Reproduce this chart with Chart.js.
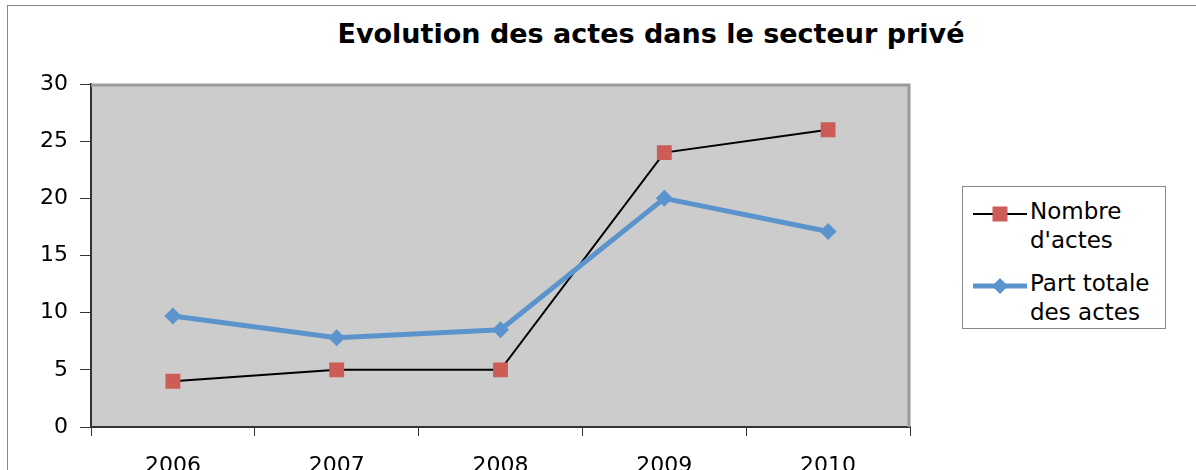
<!DOCTYPE html>
<html lang="fr">
<head>
  <meta charset="UTF-8">
  <title>Evolution des actes dans le secteur privé</title>
  <script src="https://cdn.jsdelivr.net/npm/chart.js"></script>
  <style>
    body {
      margin: 0;
      background: white;
      font-family: "DejaVu Sans", sans-serif;
    }
    #wrap {
      position: relative;
      width: 1196px;
      height: 470px;
      overflow: hidden;
    }
    #frame {
      position: absolute;
      left: 7px;
      top: 5px;
      width: 1300px;
      height: 600px;
      border: 1px solid #888;
    }
    #title {
      position: absolute;
      left: 0;
      top: 17px;
      width: 1302px;
      text-align: center;
      font-weight: bold;
      font-size: 27px;
      line-height: 34px;
      color: #000;
    }
    #chartBox {
      position: absolute;
      left: 0;
      top: 0;
      width: 1196px;
      height: 470px;
    }
    #legend {
      position: absolute;
      left: 962px;
      top: 186px;
      width: 202px;
      height: 141px;
      border: 1px solid #888;
      background: white;
      font-size: 23px;
      line-height: 29px;
      color: #000;
    }
    .item {
      position: absolute;
      left: 0;
    }
    .swatch {
      position: absolute;
      left: 10px;
      width: 54px;
    }
    .lbl {
      position: absolute;
      left: 67px;
      white-space: nowrap;
    }
  </style>
</head>
<body>
  <div id="wrap">
    <div id="frame"></div>
    <div id="title">Evolution des actes dans le secteur privé</div>
    <div id="chartBox"><canvas id="chart"></canvas></div>
    <div id="legend"></div>
  </div>

  <script>
    const years = ['2006', '2007', '2008', '2009', '2010'];
    const nombreActes = [4, 5, 5, 24, 26];
    const partTotale = [9.7, 7.8, 8.5, 20, 17.1];
    const seriesNames = [["Nombre", "d'actes"], ["Part totale", "des actes"]];

    const redMark = '#cd5c57';
    const blue = '#5b94cd';
    const tickFont = { family: '"DejaVu Sans", sans-serif', size: 22 };

    // fond gris et bordure haute/droite de la zone de tracé
    const plotBg = {
      id: 'plotBg',
      beforeDraw(chart) {
        const { ctx, chartArea: a } = chart;
        ctx.save();
        ctx.fillStyle = '#cccccc';
        ctx.fillRect(a.left, a.top, a.right - a.left, a.bottom - a.top);
        ctx.restore();
      },
      afterDatasetsDraw(chart) {
        const { ctx, chartArea: a } = chart;
        ctx.save();
        ctx.strokeStyle = '#9a9a9a';
        ctx.lineWidth = 3;
        ctx.beginPath();
        ctx.moveTo(a.left, a.top + 1);
        ctx.lineTo(a.right - 1, a.top + 1);
        ctx.lineTo(a.right - 1, a.bottom);
        ctx.stroke();
        ctx.restore();
      }
    };

    const ctx = document.getElementById('chart').getContext('2d');
    new Chart(ctx, {
      type: 'line',
      data: {
        labels: years,
        datasets: [{
          label: "Nombre d'actes",
          data: nombreActes,
          borderColor: '#000',
          borderWidth: 2,
          pointStyle: 'rect',
          pointRadius: 10.5,
          pointBackgroundColor: redMark,
          pointBorderColor: redMark,
          pointBorderWidth: 0,
          order: 2
        }, {
          label: 'Part totale des actes',
          data: partTotale,
          borderColor: blue,
          borderWidth: 5,
          pointStyle: 'rectRot',
          pointRadius: 8.5,
          pointBackgroundColor: blue,
          pointBorderColor: blue,
          pointBorderWidth: 0,
          order: 1
        }]
      },
      options: {
        responsive: true,
        maintainAspectRatio: false,
        animation: false,
        layout: {
          padding: { left: 0, top: 84, right: 286, bottom: 0 }
        },
        scales: {
          x: {
            offset: true,
            afterFit(scale) { scale.height = 43; },
            grid: {
              offset: true,
              drawOnChartArea: false,
              tickLength: 9,
              color: '#333'
            },
            border: { color: '#333', width: 2 },
            ticks: {
              color: '#000',
              padding: 17,
              font: tickFont
            }
          },
          y: {
            min: 0,
            max: 30,
            afterFit(scale) { scale.width = 91; },
            grid: {
              drawOnChartArea: false,
              tickLength: 11,
              color: '#333'
            },
            border: { color: '#333', width: 2 },
            ticks: {
              stepSize: 5,
              color: '#000',
              padding: 12,
              font: tickFont
            }
          }
        },
        plugins: {
          legend: { display: false },
          tooltip: { enabled: false }
        }
      },
      plugins: [plotBg]
    });

    // légende à droite, texte sur deux lignes comme l'original
    const legend = document.getElementById('legend');
    const swatches = [
      '<svg width="54" height="20"><line x1="0" y1="10" x2="54" y2="10" stroke="#000" stroke-width="2"/><rect x="19.5" y="2.5" width="15" height="15" fill="' + redMark + '"/></svg>',
      '<svg width="54" height="20"><line x1="0" y1="10" x2="54" y2="10" stroke="' + blue + '" stroke-width="5"/><polygon points="27,2 35,10 27,18 19,10" fill="' + blue + '"/></svg>'
    ];
    const tops = [10, 82];
    seriesNames.forEach((lines, i) => {
      const item = document.createElement('div');
      item.className = 'item';
      item.style.top = tops[i] + 'px';
      item.innerHTML =
        '<div class="swatch" style="top:5px">' + swatches[i] + '</div>' +
        '<div class="lbl">' + lines[0] + '<br>' + lines[1] + '</div>';
      legend.appendChild(item);
    });
  </script>
</body>
</html>
